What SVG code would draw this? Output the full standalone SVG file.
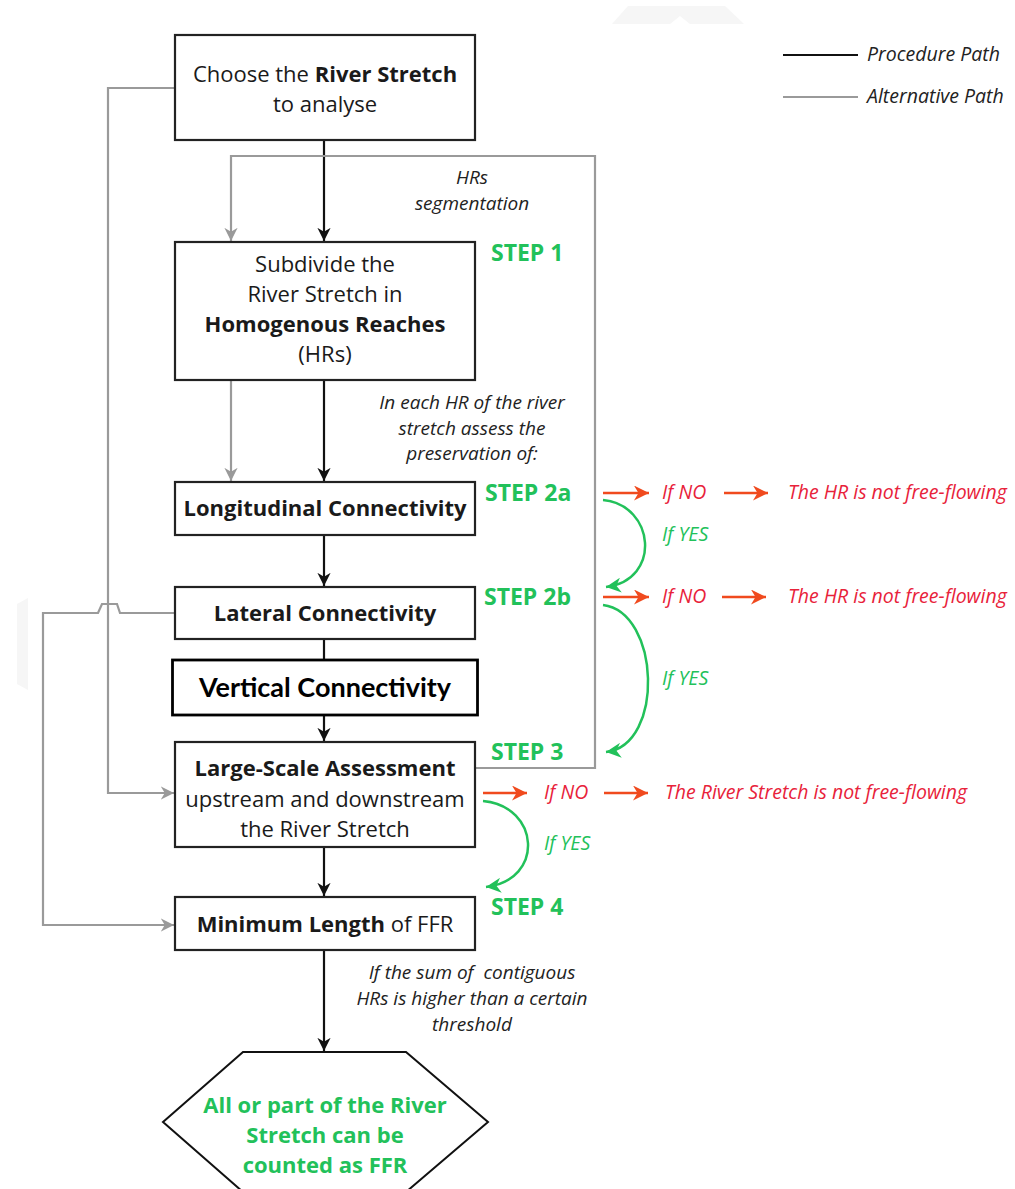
<svg xmlns="http://www.w3.org/2000/svg" width="1015" height="1189" viewBox="0 0 1015 1189">
<defs>
<marker id="ab" viewBox="0 0 10 10" refX="10" refY="5" markerWidth="6" markerHeight="6" orient="auto" markerUnits="strokeWidth"><path d="M0,0 L10,5 L0,10 L3,5 Z" fill="#111"/></marker>
<marker id="ag" viewBox="0 0 10 10" refX="10" refY="5" markerWidth="6" markerHeight="6" orient="auto" markerUnits="strokeWidth"><path d="M0,0 L10,5 L0,10 L3,5 Z" fill="#9a9a9a"/></marker>
<marker id="ar" viewBox="0 0 10 10" refX="10" refY="5" markerWidth="6" markerHeight="6" orient="auto" markerUnits="strokeWidth"><path d="M0,0 L10,5 L0,10 L3,5 Z" fill="#f04a1e"/></marker>
<marker id="agr" viewBox="0 0 10 10" refX="10" refY="5" markerWidth="6" markerHeight="6" orient="auto" markerUnits="strokeWidth"><path d="M0,0 L10,5 L0,10 L3,5 Z" fill="#22c15a"/></marker>
</defs>
<style>
.box{fill:#fff;stroke:#222;stroke-width:2.2}
.t{font-family:"Open Sans","Noto Sans",sans-serif;font-size:22px;fill:#1a1a1a;text-anchor:middle}
.b{font-weight:bold}
.note{font-family:"Open Sans","Noto Sans",sans-serif;font-style:italic;font-size:19px;fill:#222;text-anchor:middle}
.step{font-family:"Open Sans","Noto Sans",sans-serif;font-weight:bold;font-size:23px;fill:#22c15a}
.no{font-family:"Open Sans","Noto Sans",sans-serif;font-style:italic;font-size:19.5px;fill:#e8223a}
.yes{font-family:"Open Sans","Noto Sans",sans-serif;font-style:italic;font-size:19.5px;fill:#22c15a}
.leg{font-family:"Open Sans","Noto Sans",sans-serif;font-style:italic;font-size:19.5px;fill:#222}
.blk{stroke:#111;stroke-width:2.2;fill:none}
.gry{stroke:#9a9a9a;stroke-width:2.2;fill:none}
.red{stroke:#f04a1e;stroke-width:2.5;fill:none}
.grn{stroke:#22c15a;stroke-width:2.5;fill:none}
</style>
<rect width="1015" height="1189" fill="#fff"/>
<polygon points="612,24 628,6 725,6 744,24 690,24 680,16 670,24" fill="#f6f6f6"/>
<polygon points="17,604 28,598 28,690 17,684" fill="#f6f6f6"/>

<g id="legend">
<line x1="783" y1="55" x2="858" y2="55" stroke="#111" stroke-width="2.2"/>
<text x="867" y="61" class="leg">Procedure Path</text>
<line x1="783" y1="97" x2="858" y2="97" stroke="#9a9a9a" stroke-width="2.2"/>
<text x="867" y="103" class="leg">Alternative Path</text>
</g>

<g id="connectors">
<line class="blk" x1="324" y1="140" x2="324" y2="241" marker-end="url(#ab)"/>
<polyline class="gry" points="476,768 595,768 595,156 231,156 231,241" marker-end="url(#ag)"/>
<line class="gry" x1="231" y1="380" x2="231" y2="481" marker-end="url(#ag)"/>
<line class="blk" x1="324" y1="380" x2="324" y2="481" marker-end="url(#ab)"/>
<line class="blk" x1="324" y1="535" x2="324" y2="586" marker-end="url(#ab)"/>
<line class="blk" x1="324" y1="639" x2="324" y2="660"/>
<line class="blk" x1="324" y1="715" x2="324" y2="741" marker-end="url(#ab)"/>
<line class="blk" x1="324" y1="847" x2="324" y2="896" marker-end="url(#ab)"/>
<line class="blk" x1="324" y1="950" x2="324" y2="1051" marker-end="url(#ab)"/>
<polyline class="gry" points="175,88 108,88 108,793 174,793" marker-end="url(#ag)"/>
<polyline class="gry" points="175,613 120,613 117,604 102,604 98,613 43,613 43,925 174,925" marker-end="url(#ag)"/>
<line class="red" x1="603" y1="493" x2="649" y2="493" marker-end="url(#ar)"/>
<line class="red" x1="724" y1="493" x2="768" y2="493" marker-end="url(#ar)"/>
<path class="grn" d="M603,500 C655,505 662,580 606,587" marker-end="url(#agr)"/>
<line class="red" x1="603" y1="597" x2="649" y2="597" marker-end="url(#ar)"/>
<line class="red" x1="722" y1="597" x2="766" y2="597" marker-end="url(#ar)"/>
<path class="grn" d="M603,605 C660,612 665,745 606,752" marker-end="url(#agr)"/>
<line class="red" x1="483" y1="793" x2="527" y2="793" marker-end="url(#ar)"/>
<line class="red" x1="604" y1="793" x2="648" y2="793" marker-end="url(#ar)"/>
<path class="grn" d="M483,801 C540,806 545,880 486,887" marker-end="url(#agr)"/>
</g>

<g id="n-choose">
<rect class="box" x="175" y="35" width="300" height="105"/>
<text class="t" x="325" y="82">Choose the <tspan class="b">River Stretch</tspan></text>
<text class="t" x="325" y="112">to analyse</text>
</g>
<g id="n-subdivide">
<rect class="box" x="175" y="242" width="300" height="138"/>
<text class="t" x="325" y="272">Subdivide the</text>
<text class="t" x="325" y="302">River Stretch in</text>
<text class="t b" x="325" y="332">Homogenous Reaches</text>
<text class="t" x="325" y="362">(HRs)</text>
</g>
<g id="n-long">
<rect class="box" x="175" y="482" width="300" height="53"/>
<text class="t b" x="325" y="516">Longitudinal Connectivity</text>
</g>
<g id="n-lat">
<rect class="box" x="175" y="587" width="300" height="52"/>
<text class="t b" x="325" y="621">Lateral Connectivity</text>
</g>
<g id="n-vert">
<rect x="172.5" y="660" width="305" height="55" fill="#fff" stroke="#000" stroke-width="2.8"/>
<text x="325" y="697" style="font-family:Lato,'Liberation Sans',sans-serif;font-weight:bold;font-size:27px;fill:#000;text-anchor:middle">Vertical Connectivity</text>
</g>
<g id="n-large">
<rect class="box" x="175" y="742" width="300" height="105"/>
<text class="t b" x="325" y="776">Large-Scale Assessment</text>
<text class="t" x="325" y="807">upstream and downstream</text>
<text class="t" x="325" y="837">the River Stretch</text>
</g>
<g id="n-min">
<rect class="box" x="175" y="897" width="300" height="53"/>
<text class="t" x="325" y="932"><tspan class="b">Minimum Length</tspan> of FFR</text>
</g>
<g id="n-final">
<polygon points="243,1052 406,1052 488,1122 406,1192 243,1192 163,1122" fill="#fff" stroke="#111" stroke-width="2"/>
<text class="t b" x="325" y="1113" style="fill:#22c15a">All or part of the River</text>
<text class="t b" x="325" y="1143" style="fill:#22c15a">Stretch can be</text>
<text class="t b" x="325" y="1173" style="fill:#22c15a">counted as FFR</text>
</g>

<g id="labels">
<text class="note" x="472" y="184">HRs</text>
<text class="note" x="472" y="210">segmentation</text>
<text class="note" x="472" y="409">In each HR of the river</text>
<text class="note" x="472" y="435">stretch assess the</text>
<text class="note" x="472" y="460">preservation of:</text>
<text class="note" x="472" y="979" style="white-space:pre">If the sum of  contiguous</text>
<text class="note" x="472" y="1005">HRs is higher than a certain</text>
<text class="note" x="472" y="1031">threshold</text>
<text class="step" x="491" y="261">STEP 1</text>
<text class="step" x="485" y="501">STEP 2a</text>
<text class="step" x="484" y="605">STEP 2b</text>
<text class="step" x="491" y="760">STEP 3</text>
<text class="step" x="491" y="915">STEP 4</text>
<text class="no" x="662" y="499">If NO</text>
<text class="no" x="788" y="499">The HR is not free-flowing</text>
<text class="yes" x="662" y="541">If YES</text>
<text class="no" x="662" y="603">If NO</text>
<text class="no" x="788" y="603">The HR is not free-flowing</text>
<text class="yes" x="662" y="685">If YES</text>
<text class="no" x="544" y="799">If NO</text>
<text class="no" x="665" y="799">The River Stretch is not free-flowing</text>
<text class="yes" x="544" y="850">If YES</text>
</g>
</svg>
